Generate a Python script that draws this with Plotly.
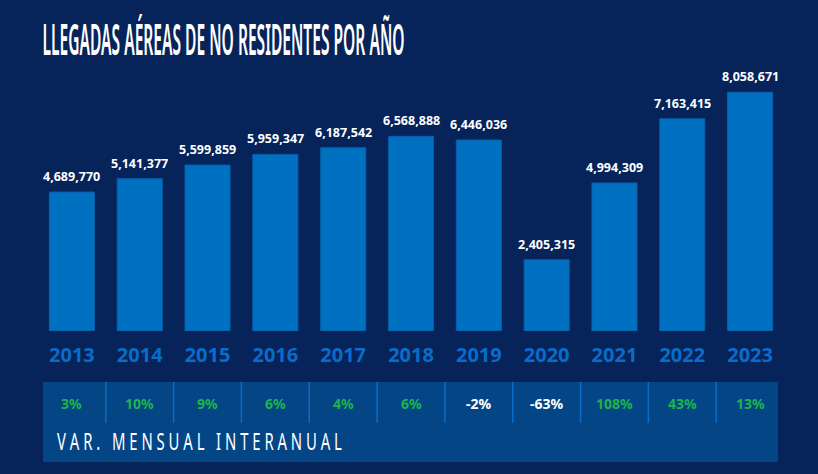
import plotly.graph_objects as go

years = ["2013", "2014", "2015", "2016", "2017", "2018", "2019", "2020", "2021", "2022", "2023"]
arrivals = [4689770, 5141377, 5599859, 5959347, 6187542, 6568888, 6446036, 2405315, 4994309, 7163415, 8058671]
variation = [3, 10, 9, 6, 4, 6, -2, -63, 108, 43, 13]

BG = "#06245A"
BAR = "#0070C0"
BAR_LINE = "#0A5DA8"
YEAR_COL = "#0A6CC8"
TABLE = "#044586"
GREEN = "#1DB44E"

idx = list(range(len(years)))

fig = go.Figure()
fig.add_trace(go.Bar(
    x=idx, y=arrivals,
    marker=dict(color=BAR, line=dict(color=BAR_LINE, width=1)),
    hoverinfo="skip",
))

# value labels above bars
for i, v in zip(idx, arrivals):
    fig.add_annotation(x=i, xref="x", y=v, yref="y", yanchor="bottom",
                       yshift=5, text=f"{v:,}", showarrow=False,
                       font=dict(family="Noto Sans", size=12.5, color="white", weight="bold"))

# variation table background
fig.add_shape(type="rect", xref="paper", yref="paper",
              x0=0.0067, x1=0.992, y0=-0.483, y1=-0.188,
              fillcolor=TABLE, line=dict(width=0), layer="below")

# separators between categories
for i in idx[:-1]:
    fig.add_shape(type="line", xref="x", yref="paper",
                  x0=i + 0.5, x1=i + 0.5, y0=-0.188, y1=-0.339,
                  line=dict(color=YEAR_COL, width=1.5))

for i, v in zip(idx, variation):
    fig.add_annotation(x=i, xref="x", y=-0.266, yref="paper", yanchor="middle",
                       text=f"{v}%", showarrow=False,
                       font=dict(family="Noto Sans", size=14, weight="bold",
                                 color=GREEN if v > 0 else "white"))

fig.add_annotation(x=0.0228, xref="paper", y=-0.404, yref="paper",
                   xanchor="left", yanchor="middle",
                   text="V A R .   M E N S U A L   I N T E R A N U A L",
                   showarrow=False,
                   font=dict(family="Noto Sans", size=24, color="white"))

fig.update_layout(
    width=818, height=474,
    paper_bgcolor=BG, plot_bgcolor=BG,
    margin=dict(l=38, r=34, t=60, b=143),
    bargap=0.335,
    showlegend=False,
    title=dict(text="LLEGADAS AÉREAS DE NO RESIDENTES POR AÑO",
               x=0.052, xanchor="left", y=0.915, yanchor="middle",
               font=dict(family="Noto Sans", size=43, color="white", weight=600)),
    xaxis=dict(showgrid=False, zeroline=False, showline=False, ticks="",
               tickmode="array", tickvals=idx, ticktext=years,
               tickfont=dict(family="Noto Sans", size=20, color=YEAR_COL, weight="bold"),
               ticklabelstandoff=10, range=[-0.5, 10.5], fixedrange=True),
    yaxis=dict(visible=False, range=[0, 9.146e6], fixedrange=True),
)

post = """
document.body.style.margin = '0';
document.body.style.overflow = 'hidden';
function squeeze(el, target) {
  if (!el) return;
  var b = el.getBBox();
  if (!b.width) return;
  var s = target / b.width;
  var prev = el.getAttribute('transform') || '';
  el.setAttribute('transform', prev + ' translate(' + (b.x * (1 - s)) + ',0) scale(' + s + ',1)');
}
squeeze(document.querySelector('.gtitle'), 362);
document.querySelectorAll('.annotation-text').forEach(function (t) {
  if (t.textContent.indexOf('V A R') === 0) squeeze(t, 285);
});
"""

fig.write_html("out.html", post_script=post, config={"displayModeBar": False})
